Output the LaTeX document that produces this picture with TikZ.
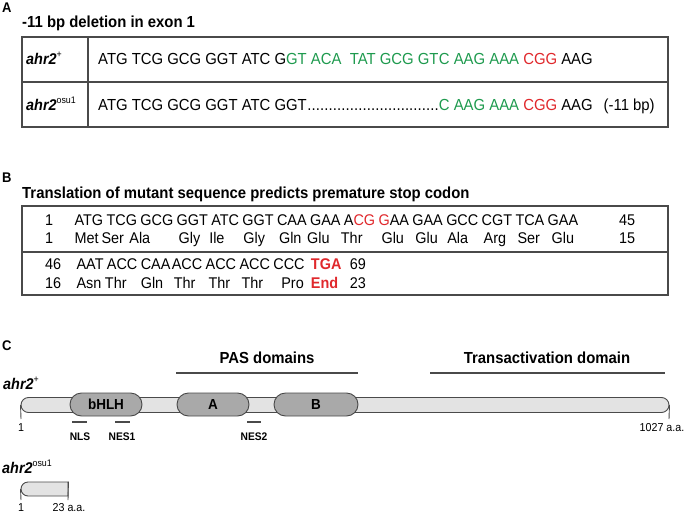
\documentclass[tikz,border=0pt]{standalone}
\usepackage{fontspec}
\setmainfont{Liberation Sans}[FakeStretch=0.93]
\usetikzlibrary{shapes.misc,calc}
\definecolor{sgreen}{HTML}{1E9A4E}
\definecolor{sred}{HTML}{E0282C}
\definecolor{lineg}{HTML}{4A4A4A}
\definecolor{barfill}{HTML}{E3E3E3}
\definecolor{pillfill}{HTML}{A9A9A9}
\newcommand{\fsz}[1]{\fontsize{#1}{#1}\selectfont}
\newcommand{\supx}[1]{\raisebox{0.42em}{\fsz{9.5}\mdseries\upshape #1}}
\begin{document}
\begin{tikzpicture}[x=1pt,y=-1pt,
  panel/.style={font=\fsz{14}\bfseries, inner sep=0, anchor=west},
  ttl/.style={font=\fsz{16}\bfseries, inner sep=0, anchor=west},
  tbl/.style={draw=lineg, line width=1.3pt},
  seqA/.style={font=\fsz{16}, inner sep=0, anchor=base west},
  seqB/.style={font=\fsz{15.5}, inner sep=0, anchor=base west},
  lbl/.style={font=\fsz{15.5}\bfseries\itshape, inner sep=0, anchor=base west},
  clbl/.style={font=\fsz{16}\bfseries, inner sep=0},
  domline/.style={draw=lineg, line width=1.3pt},
  bar/.style={rounded rectangle, draw=lineg, line width=0.9pt, fill=barfill, inner sep=0},
  pill/.style={rounded rectangle, draw=lineg, line width=0.9pt, fill=pillfill, inner sep=0,
    minimum height=23pt, font=\fsz{14.5}\bfseries},
  tick/.style={draw=lineg, line width=0.9pt},
  small/.style={font=\fsz{11.5}, inner sep=0},
  sig/.style={font=\fsz{11}\bfseries, inner sep=0},
  sigline/.style={draw=lineg, line width=1.2pt}
]
\useasboundingbox (0,0) rectangle (690,514);

% ---------------- Panel A ----------------
\node[panel] (lA) at (2,8) {A};
\node[ttl] (tA) at (22,23) {-11 bp deletion in exon 1};
\draw[tbl] (22,37) rectangle (668,127);
\draw[tbl] (22,82) -- (668,82);
\draw[tbl] (88,37) -- (88,127);
\node[lbl] (la1) at (26,64.5) {ahr2\supx{+}};
\node[lbl] (la2) at (26,110.5) {ahr2\supx{osu1}};
\node[seqA] (r1a) at (98,64.5) {ATG TCG GCG GGT ATC G\textcolor{sgreen}{GT ACA\ \ TAT GCG GT}};
\node[seqA] (r1b) at (r1a.base east) {\textcolor{sgreen}{C AAG AAA} \textcolor{sred}{CGG} AAG};
\node[seqA] (r2a) at (98,110.5) {ATG TCG GCG GGT ATC GGT};
\node[seqA] (r2c) at (r1b.base west |- r2a.base) {\textcolor{sgreen}{C AAG AAA} \textcolor{sred}{CGG} AAG\hspace{11pt}(-11 bp)};
\path let \p1=(r2a.base east), \p2=(r2c.base west) in
  node[seqA] (r2b) at (\p1) {\hbox to \dimexpr\x2-\x1\relax{\xleaders\hbox{.}\hfill}};

% ---------------- Panel B ----------------
\node[panel] (lB) at (2,178) {B};
\node[ttl] (tB) at (22,194) {Translation of mutant sequence predicts premature stop codon};
\draw[tbl] (22,206) rectangle (668,295);
\draw[tbl] (22,252) -- (668,252);
\node[seqB] (n1) at (45,225.5) {1};
\node[seqB] (n1b) at (45,243.5) {1};
\node[seqB] (ca0) at (70,225.5) {};
\foreach \cod/\aa/\off [count=\i, remember=\i as \j (initially 0)] in
  {ATG/Met/0, TCG/Ser/-5, GCG/Ala/-11, GGT/Gly/2, ATC/Ile/-2, GGT/Gly/1, CAA/Gln/2, GAA/Glu/-3,
   {A\textcolor{sred}{CG}}/Thr/-3, {\textcolor{sred}{G}AA}/Glu/3, GAA/Glu/3, GCC/Ala/1, CGT/Arg/2, TCA/Ser/2, GAA/Glu/4}
{
  \node[seqB] (ca\i) at ([xshift=3pt]ca\j.base east) {\cod};
  \node[seqB] (aa\i) at ([xshift=\off pt]ca\i.base west |- n1b.base) {\aa};
}
\node[seqB] (e1) at (619,225.5) {45};
\node[seqB] (e1b) at (619,243.5) {15};

\node[seqB] (n2) at (45,269.5) {46};
\node[seqB] (n2b) at (45,288.5) {16};
\node[seqB] (cb0) at (72,269.5) {};
\foreach \cod/\aa/\off/\gap [count=\i, remember=\i as \j (initially 0)] in
  {AAT/Asn/0/3, ACC/Thr/-2/3, CAA/Gln/0/3, ACC/Thr/2/1, ACC/Thr/3/3, ACC/Thr/2/3, CCC/Pro/8/3,
   {\textbf{\textcolor{sred}{TGA}}}/{\textbf{\textcolor{sred}{End}}}/0/6}
{
  \node[seqB] (cb\i) at ([xshift=\gap pt]cb\j.base east) {\cod};
  \node[seqB] (ab\i) at ([xshift=\off pt]cb\i.base west |- n2b.base) {\aa};
}
\node[seqB] (e2) at ([xshift=8pt]cb8.base east) {69};
\node[seqB] (e2b) at (e2.base west |- n2b.base) {23};

% ---------------- Panel C ----------------
\node[panel] (lC) at (2,346) {C};
\node[clbl] (pas) at (267,358) {PAS domains};
\coordinate (pasL) at (176,373);
\coordinate (pasR) at (358,373);
\draw[domline] (pasL) -- (pasR);
\node[clbl] (tad) at (547,358) {Transactivation domain};
\coordinate (tadL) at (430,373);
\coordinate (tadR) at (665,373);
\draw[domline] (tadL) -- (tadR);

\node[lbl] (lc1) at (3,389.5) {ahr2\supx{+}};
\node[bar, minimum width=648pt, minimum height=15pt] (bar) at (345,405) {};
\node[pill, minimum width=72pt] (bhlh) at (106,404.5) {bHLH};
\node[pill, minimum width=72pt] (pasA) at (213,404.5) {A};
\node[pill, minimum width=84pt] (pasB) at (316,404.5) {B};
\coordinate (t1) at (21,419);
\coordinate (t2) at (669,419);
\draw[tick] (bar.west) -- (t1);
\draw[tick] (bar.east) -- (t2);
\node[small] (one) at (21,428) {1};
\node[small] (end) at (662,428) {1027 a.a.};

\coordinate (nlsL) at (72,422); \coordinate (nlsR) at (87,422);
\coordinate (nes1L) at (115,422); \coordinate (nes1R) at (130,422);
\coordinate (nes2L) at (247,422); \coordinate (nes2R) at (261,422);
\draw[sigline] (nlsL) -- (nlsR);
\draw[sigline] (nes1L) -- (nes1R);
\draw[sigline] (nes2L) -- (nes2R);
\node[sig] (nls) at (80,437) {NLS};
\node[sig] (nes1) at (122,437) {NES1};
\node[sig] (nes2) at (254,437) {NES2};

\node[lbl] (lc2) at (2,473.5) {ahr2\supx{osu1}};
\node[bar, rounded rectangle right arc=none, minimum width=47pt, minimum height=14pt] (sbar) at (44.5,489) {};
\coordinate (s1) at (21,500);
\coordinate (s2) at (68,500);
\draw[tick] (sbar.west) -- (s1);
\draw[tick] (sbar.north east) -- (s2);
\node[small] (sone) at (21,507.5) {1};
\node[small] (send) at (69,507.5) {23 a.a.};
\end{tikzpicture}
\end{document}
